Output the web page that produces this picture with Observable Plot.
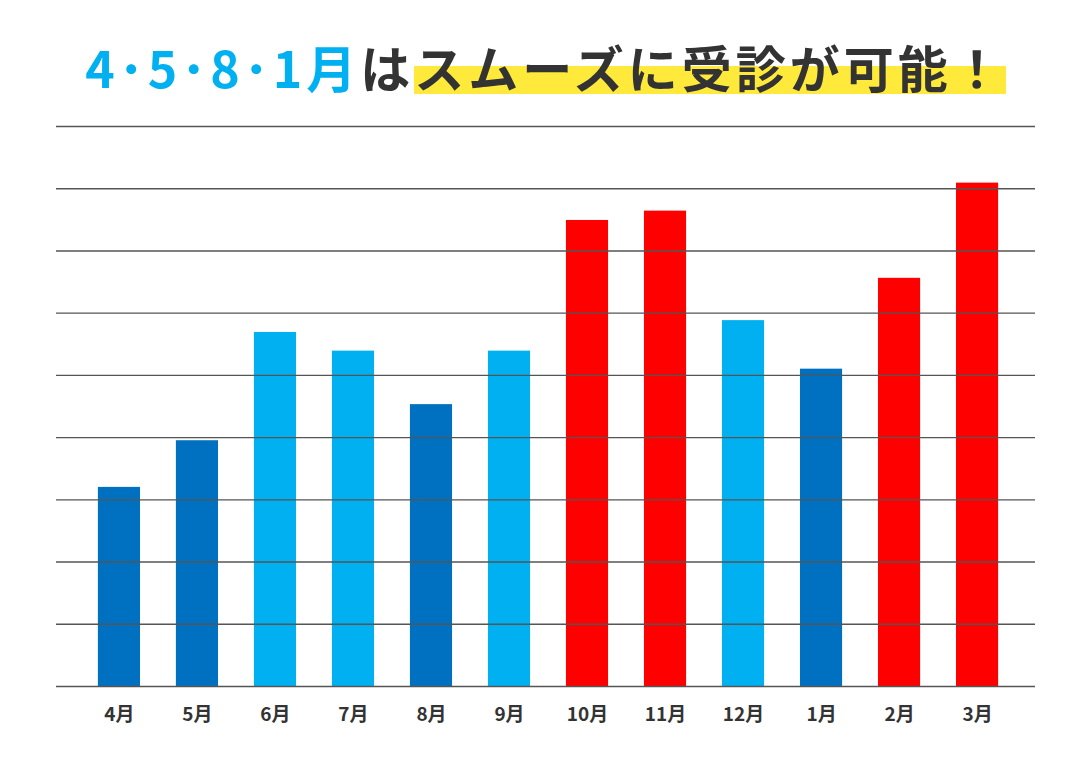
<!DOCTYPE html>
<html>
<head>
<meta charset="utf-8">
<script src="https://cdn.jsdelivr.net/npm/d3@7"></script>
<script src="https://cdn.jsdelivr.net/npm/@observablehq/plot@0.6"></script>
<style>
  body { margin: 0; background: #fff; }
  #wrap { width: 1091px; height: 760px; position: relative; }
  #title {
    height: 110px; box-sizing: border-box; padding-top: 34px;
    text-align: center; white-space: nowrap;
    font-family: "Noto Sans CJK JP", sans-serif; font-weight: 700;
    font-size: 50px; line-height: 64px; color: #333; letter-spacing: 4px;
  }
  #title .blue { color: #00B0F0; }
  #title .hl { background: linear-gradient(to bottom, transparent 50%, #FFE93B 50%, #FFE93B 89%, transparent 89%); }
  svg { display: block; }
</style>
</head>
<body>
<div id="wrap">
  <div id="title"><span class="blue">4･5･8･1月</span>は<span class="hl">スムーズに受診が可能！</span></div>
  <div id="chart"></div>
</div>
<script>
const months = ["4月","5月","6月","7月","8月","9月","10月","11月","12月","1月","2月","3月"];
const values = [3.2, 3.95, 5.69, 5.39, 4.53, 5.39, 7.49, 7.64, 5.88, 5.10, 6.56, 8.09];
const levels = ["low","low","mid","mid","low","mid","high","high","mid","low","high","high"];
const gridValues = [0,1,2,3,4,5,6,7,8,9];

const data = months.map((m, i) => ({month: m, value: values[i], level: levels[i]}));

const chart = Plot.plot({
  width: 1091,
  height: 650,
  marginTop: 16,
  marginBottom: 74,
  marginLeft: 56,
  marginRight: 56,
  style: {fontFamily: '"Noto Sans CJK JP", sans-serif'},
  x: {domain: months, padding: 0.46, insetLeft: 6, insetRight: 1, round: false, label: null, tickSize: 0, tickPadding: 21},
  y: {domain: [0, 9], axis: null},
  color: {domain: ["low","mid","high"], range: ["#0070C0","#00B0F0","#FF0000"]},
  marks: [
    Plot.barY(data, {x: "month", y: "value", fill: "level"}),
    Plot.ruleY(gridValues, {stroke: "#555", strokeWidth: 1.4})
  ]
});
const g = chart.querySelector('[aria-label="x-axis tick label"]');
if (g) { g.setAttribute("font-size", "19"); g.setAttribute("font-weight", "700"); g.setAttribute("fill", "#333"); }
document.getElementById("chart").appendChild(chart);
</script>
</body>
</html>
